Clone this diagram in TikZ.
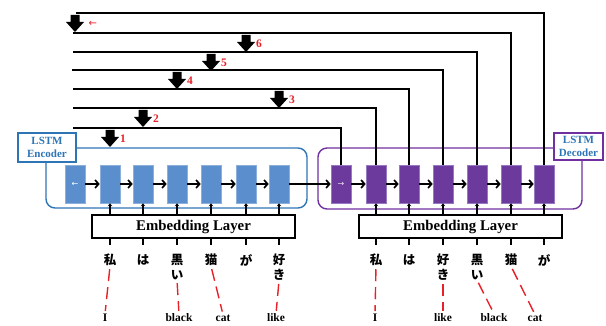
\documentclass[tikz,border=0pt]{standalone}
\usepackage{fontspec}
\setmainfont{Liberation Serif}
\newfontfamily\jpfont{Noto Sans CJK JP}
\newfontfamily\symfont{DejaVu Sans}
\usetikzlibrary{arrows.meta}

\definecolor{encfill}{RGB}{91,142,205}
\definecolor{encedge}{RGB}{140,175,220}
\definecolor{encline}{RGB}{46,117,182}
\definecolor{decfill}{RGB}{108,58,156}
\definecolor{decedge}{RGB}{150,120,195}
\definecolor{decline}{RGB}{112,48,160}
\definecolor{numred}{RGB}{232,32,40}

\tikzset{
  enccell/.style={draw=encedge, fill=encfill, line width=0.6pt,
    minimum width=20pt, minimum height=38pt, inner sep=0pt},
  deccell/.style={draw=decedge, fill=decfill, line width=0.6pt,
    minimum width=20pt, minimum height=38pt, inner sep=0pt},
  chain/.style={line width=1.7pt, -{Straight Barb[length=3.5pt,width=8pt]}},
  feed/.style={line width=1.8pt},
  frame/.style={line width=1.4pt, rounded corners=9pt, inner sep=0pt},
  lbl/.style={draw, fill=white, line width=1.8pt, text=encline, align=center,
    font=\fontsize{11}{13}\selectfont\bfseries, inner sep=0pt},
  embbox/.style={draw, line width=1.8pt, fill=white, minimum width=203pt,
    minimum height=23pt, inner sep=0pt, font=\fontsize{14.8}{16}\selectfont\bfseries},
  inarrow/.style={line width=1.2pt, -{Stealth[length=3pt,width=4.5pt]}},
  stub/.style={line width=1.4pt},
  jp/.style={font=\jpfont\fontsize{12.5}{15}\selectfont\bfseries, align=center,
    inner sep=0pt, anchor=north},
  en/.style={font=\fontsize{11.5}{13}\selectfont\bfseries, inner sep=0pt},
  num/.style={text=numred, font=\fontsize{11.5}{12}\selectfont\bfseries, inner sep=0pt},
  align link/.style={draw=numred, line width=1.4pt, dash pattern=on 12pt off 6pt,
    shorten <=3pt, shorten >=3pt},
  blockarrow/.pic={\fill (-4.5,0) -- (4.5,0) -- (4.5,7) -- (9,7) -- (0,17)
    -- (-9,7) -- (-4.5,7) -- cycle;}
}

\begin{document}
\begin{tikzpicture}[x=1pt,y=-1pt]
\useasboundingbox (0,0) rectangle (606,326);

% encoder and decoder frames
\node[frame, draw=encline, minimum width=261pt, minimum height=60pt] (encframe) at (176.5,178) {};
\node[frame, draw=decline, minimum width=264pt, minimum height=61pt] (decframe) at (450,178.5) {};
\node[lbl, draw=encline, minimum width=58pt, minimum height=29pt] (enclab) at (47,147.5) {LSTM\\Encoder};
\node[lbl, draw=decline, minimum width=49pt, minimum height=27pt] (declab) at (578.5,146.5) {LSTM\\Decoder};

% LSTM cells
\foreach \i/\x in {1/75,2/110,3/143,4/177,5/211,6/246,7/279}
  \node[enccell] (e\i) at (\x,184) {};
\foreach \i/\x in {1/341,2/376,3/409,4/443,5/477,6/511,7/544}
  \node[deccell] (d\i) at (\x,184) {};
\node[text=white, font=\symfont\fontsize{8}{8}\selectfont] (encdir) at (e1) {←};
\node[text=white!85!decfill, font=\symfont\fontsize{8}{8}\selectfont] (decdir) at (d1) {→};

% recurrent connections
\foreach \i [count=\j from 2] in {1,...,6} {
  \draw[chain] (e\i) -- (e\j);
  \draw[chain] (d\i) -- (d\j);
}
\draw[chain] (e7) -- (d1);

% decoder feedback lines
\coordinate (s7) at (76,13);
\coordinate (s6) at (73,33);
\coordinate (s5) at (73,52);
\coordinate (s4) at (72,70);
\coordinate (s3) at (73,89);
\coordinate (s2) at (73,108);
\coordinate (s1) at (73,128);
\foreach \i in {1,...,7}
  \draw[feed] (s\i) -- (s\i -| d\i) -- (d\i.north);

% attention arrows: below line / above encoder cell / label
\foreach \l/\c/\t in {7/1/{},6/6/6,5/5/5,4/4/4,3/7/3,2/3/2,1/2/1} {
  \coordinate (a\l) at (s\l -| e\c);
  \pic[yshift=-2pt] at (a\l) {blockarrow};
  \node[num, anchor=west] (n\l) at ([xshift=10pt,yshift=-11pt]a\l) {\t};
}
\node[text=numred, font=\symfont\fontsize{10}{10}\selectfont, anchor=west] (revmark) at ([xshift=10pt,yshift=-11pt]a7) {←};

% embedding layers
\node[embbox] (embL) at (193.5,226.5) {Embedding Layer};
\node[embbox] (embR) at (460.5,226.5) {Embedding Layer};
\foreach \i in {2,...,7} {
  \draw[inarrow] (embL.north -| e\i) -- (e\i.south);
  \draw[inarrow] (embR.north -| d\i) -- (d\i.south);
  \draw[stub] (embL.south -| e\i) -- ++(0,6);
  \draw[stub] (embR.south -| d\i) -- ++(0,6);
}

% source words
\coordinate (wrow) at (0,254);
\foreach \i/\w in {2/私,3/は,4/{黒\\い},5/猫,6/が,7/{好\\き}}
  \node[jp] (jl\i) at (e\i |- wrow) {\w};
\foreach \i/\w in {2/私,3/は,4/{好\\き},5/{黒\\い},6/猫,7/が}
  \node[jp] (jr\i) at (d\i |- wrow) {\w};

% English glosses
\node[en] (el1) at (105,318) {I};
\node[en] (el2) at (179,318) {black};
\node[en] (el3) at (223,318) {cat};
\node[en] (el4) at (276,318) {like};
\node[en] (er1) at (375,318) {I};
\node[en] (er2) at (443,318) {like};
\node[en] (er3) at (494,318) {black};
\node[en] (er4) at (535,318) {cat};

% alignment links
\draw[align link] (jl2.south) -- (el1.north);
\draw[align link] (jl4.south) -- (el2.north);
\draw[align link] (jl5.south) -- (el3.north);
\draw[align link] (jl7.south) -- (el4.north);
\draw[align link] (jr2.south) -- (er1.north);
\draw[align link] (jr4.south) -- (er2.north);
\draw[align link] (jr5.south) -- (er3.north);
\draw[align link] (jr6.south) -- (er4.north);
\end{tikzpicture}
\end{document}
